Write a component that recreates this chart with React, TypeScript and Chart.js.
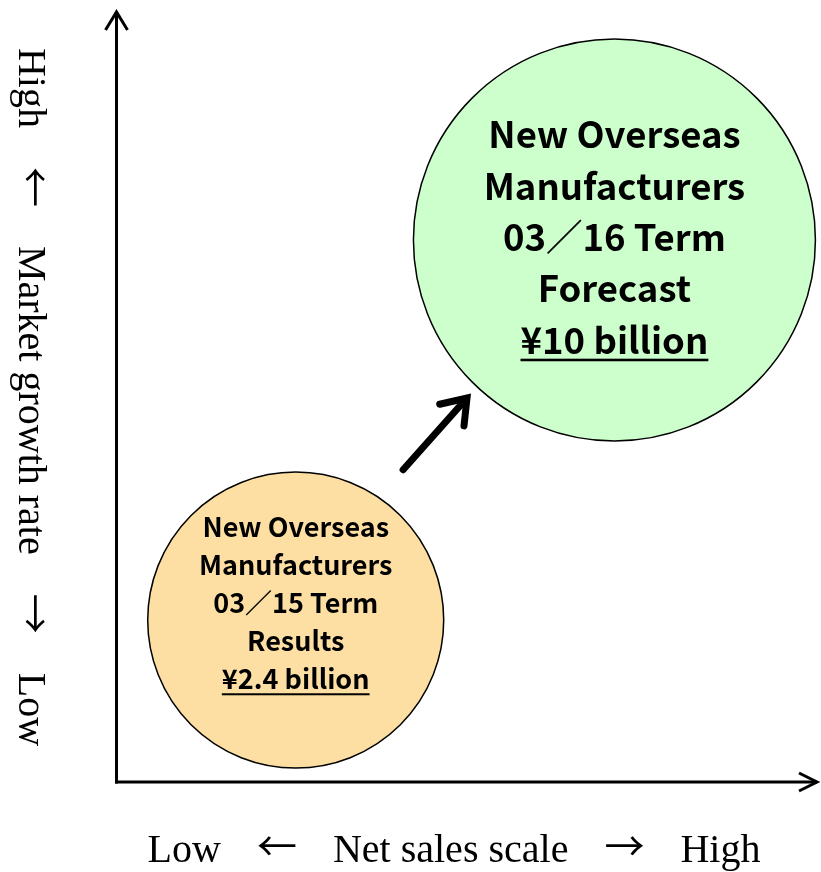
import React, { useEffect, useRef } from "react";
import { Chart, registerables } from "chart.js";

Chart.register(...registerables);

// Bubble positions on the positioning map (0–100 on both axes)
const bubbleNames = ["03/15 Term Results", "03/16 Term Forecast"];
const netSalesPosition = [25.6, 71.0];
const growthPosition = [21.0, 70.3];
const bubbleRadius = [148, 201];
const salesBillionYen = [2.4, 10];

// Text written inside each bubble (last line is underlined)
const smallBubbleLines = ["New Overseas", "Manufacturers", "03／15 Term", "Results", `¥${salesBillionYen[0]} billion`];
const largeBubbleLines = ["New Overseas", "Manufacturers", "03／16 Term", "Forecast", `¥${salesBillionYen[1]} billion`];
const bubbleLines = [smallBubbleLines, largeBubbleLines];

// Growth arrow between the two bubbles, in map units
const arrowFrom = [40.9, 40.5];
const arrowTo = [50.0, 49.8];

// Axis captions, drawn piece by piece with wide arrows
const xAxisTitle = ["Low", "←", "Net sales scale", "→", "High"];
const yAxisTitle = ["High", "←", "Market growth rate", "→", "Low"];

const bubbleFill = ["#FDDFA3", "#CCFFCC"];
const fontSizes = [27, 36.5];
const lineHeights = [38.2, 51.3];
const textShift = [-7, 11];
const GOTHIC = '"Noto Sans CJK JP", "Noto Sans", sans-serif';
const SERIF = '"Liberation Serif", "Times New Roman", serif';
const ARROW_FONT = '"Noto Sans CJK JP", sans-serif';

// Draws a caption centred on (0,0) along the current x direction
function drawCaption(ctx: CanvasRenderingContext2D, parts: string[], size: number, gap: number) {
  const fonts = parts.map((p) => (p === "←" || p === "→" ? `${size}px ${ARROW_FONT}` : `${size}px ${SERIF}`));
  const widths = parts.map((p, i) => {
    ctx.font = fonts[i];
    return ctx.measureText(p).width;
  });
  const total = widths.reduce((a, b) => a + b, 0) + gap * (parts.length - 1);
  let x = -total / 2;
  ctx.textAlign = "left";
  ctx.textBaseline = "alphabetic";
  parts.forEach((p, i) => {
    ctx.font = fonts[i];
    const isArrow = p === "←" || p === "→";
    ctx.fillText(p, x, isArrow ? -size * 0.02 : 0);
    x += widths[i] + gap;
  });
}

const decorPlugin = {
  id: "mapDecor",
  beforeDatasetsDraw(chart: any) {
    const { ctx, chartArea } = chart;
    const { left, right, top, bottom } = chartArea;
    ctx.save();
    ctx.strokeStyle = "#000";
    ctx.lineWidth = 3;
    ctx.lineCap = "butt";
    ctx.lineJoin = "miter";
    const ax = left + 0.5;
    const ay = bottom;
    // vertical axis with open arrowhead
    ctx.beginPath();
    ctx.moveTo(ax, ay + 1.5);
    ctx.lineTo(ax, top + 1);
    ctx.stroke();
    ctx.beginPath();
    ctx.moveTo(ax - 11, top + 19);
    ctx.lineTo(ax, top + 1);
    ctx.lineTo(ax + 11, top + 19);
    ctx.stroke();
    // horizontal axis with open arrowhead
    ctx.beginPath();
    ctx.moveTo(ax - 1.5, ay);
    ctx.lineTo(right - 1, ay);
    ctx.stroke();
    ctx.beginPath();
    ctx.moveTo(right - 19, ay - 9);
    ctx.lineTo(right - 1, ay);
    ctx.lineTo(right - 19, ay + 9);
    ctx.stroke();

    // axis captions
    ctx.fillStyle = "#000";
    ctx.save();
    ctx.translate(454, 862);
    drawCaption(ctx, xAxisTitle, 40, 36);
    ctx.restore();
    ctx.save();
    ctx.translate(19, 397);
    ctx.rotate(Math.PI / 2);
    drawCaption(ctx, yAxisTitle, 40, 39);
    ctx.restore();
    ctx.restore();
  },
  afterDatasetsDraw(chart: any) {
    const { ctx } = chart;
    const xs = chart.scales.x;
    const ys = chart.scales.y;
    ctx.save();
    // growth arrow
    const x1 = xs.getPixelForValue(arrowFrom[0]);
    const y1 = ys.getPixelForValue(arrowFrom[1]);
    const x2 = xs.getPixelForValue(arrowTo[0]);
    const y2 = ys.getPixelForValue(arrowTo[1]);
    const ang = Math.atan2(y2 - y1, x2 - x1);
    ctx.strokeStyle = "#000";
    ctx.lineWidth = 7;
    ctx.lineCap = "round";
    ctx.lineJoin = "miter";
    ctx.beginPath();
    ctx.moveTo(x1, y1);
    ctx.lineTo(x2 - 2 * Math.cos(ang), y2 - 2 * Math.sin(ang));
    ctx.stroke();
    const head = 28;
    ctx.beginPath();
    ctx.moveTo(x2 + head * Math.cos(ang + Math.PI - 0.62), y2 + head * Math.sin(ang + Math.PI - 0.62));
    ctx.lineTo(x2, y2);
    ctx.lineTo(x2 + head * Math.cos(ang + Math.PI + 0.62), y2 + head * Math.sin(ang + Math.PI + 0.62));
    ctx.stroke();

    // labels inside bubbles
    const meta = chart.getDatasetMeta(0);
    meta.data.forEach((pt: any, i: number) => {
      const lines = bubbleLines[i];
      const size = fontSizes[i];
      const lh = lineHeights[i];
      ctx.font = `bold ${size}px ${GOTHIC}`;
      ctx.fillStyle = "#000";
      ctx.textAlign = "center";
      ctx.textBaseline = "alphabetic";
      const mid = (lines.length - 1) / 2;
      lines.forEach((line: string, k: number) => {
        const by = pt.y + textShift[i] + (k - mid) * lh;
        ctx.fillText(line, pt.x, by);
        if (k === lines.length - 1) {
          const w = ctx.measureText(line).width;
          ctx.fillRect(pt.x - w / 2, by + size * 0.14, w, Math.max(2, size * 0.07));
        }
      });
    });
    ctx.restore();
  },
};

export default function App() {
  const ref = useRef<HTMLCanvasElement>(null);
  useEffect(() => {
    document.body.style.margin = "0";
    const canvas = ref.current!;
    const chart = new Chart(canvas, {
      type: "bubble",
      data: {
        datasets: [
          {
            label: "New Overseas Manufacturers",
            data: bubbleNames.map((_, i) => ({
              x: netSalesPosition[i],
              y: growthPosition[i],
              r: bubbleRadius[i],
            })),
            backgroundColor: bubbleFill,
            borderColor: "#000",
            borderWidth: 1.5,
            hoverRadius: 0,
            clip: false,
          },
        ],
      },
      options: {
        responsive: false,
        devicePixelRatio: 1,
        animation: false,
        events: [],
        layout: { autoPadding: false, padding: { left: 116, right: 3, top: 11, bottom: 90 } },
        plugins: { legend: { display: false }, tooltip: { enabled: false } },
        scales: {
          x: { type: "linear", min: 0, max: 100, display: false },
          y: { type: "linear", min: 0, max: 100, display: false },
        },
      },
      plugins: [decorPlugin],
    });
    return () => chart.destroy();
  }, []);
  return (
    <div style={{ position: "relative", width: 821, height: 872, background: "#fff" }}>
      <canvas ref={ref} width={821} height={872} style={{ display: "block" }} />
    </div>
  );
}
